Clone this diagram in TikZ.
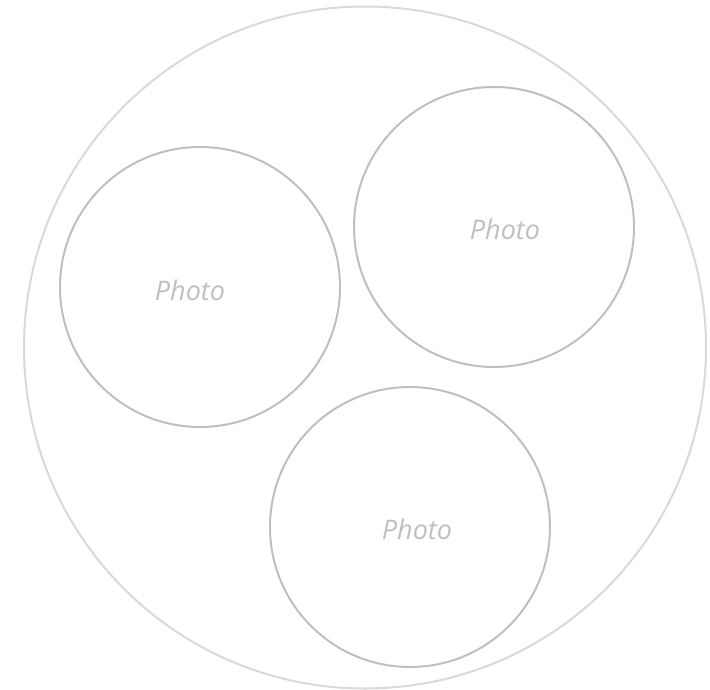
\documentclass[tikz,border=0pt]{standalone}
\usepackage{fontspec}
\newfontfamily\photofont{Open Sans}
\definecolor{outerc}{HTML}{D9D9D9}
\definecolor{innerc}{HTML}{BFBFBF}
\definecolor{textc}{HTML}{BFBFBF}
\begin{document}
\begin{tikzpicture}[x=1pt,y=-1pt,
  photocircle/.style={circle,draw=innerc,line width=2pt,minimum size=280pt,inner sep=0pt},
  phototext/.style={text=textc,font=\photofont\itshape\fontsize{27}{32}\selectfont,inner sep=0pt}]
\useasboundingbox (0,0) rectangle (710,689);
\node[circle,draw=outerc,line width=2pt,minimum size=682pt,inner sep=0pt] (outer) at (365,347.5) {};
\node[photocircle] (c1) at (200,287) {};
\node[photocircle] (c2) at (494,227) {};
\node[photocircle] (c3) at (410,527) {};
\node[phototext] (t1) at (190,290) {Photo};
\node[phototext] (t2) at (505,229) {Photo};
\node[phototext] (t3) at (417,529) {Photo};
\end{tikzpicture}
\end{document}
